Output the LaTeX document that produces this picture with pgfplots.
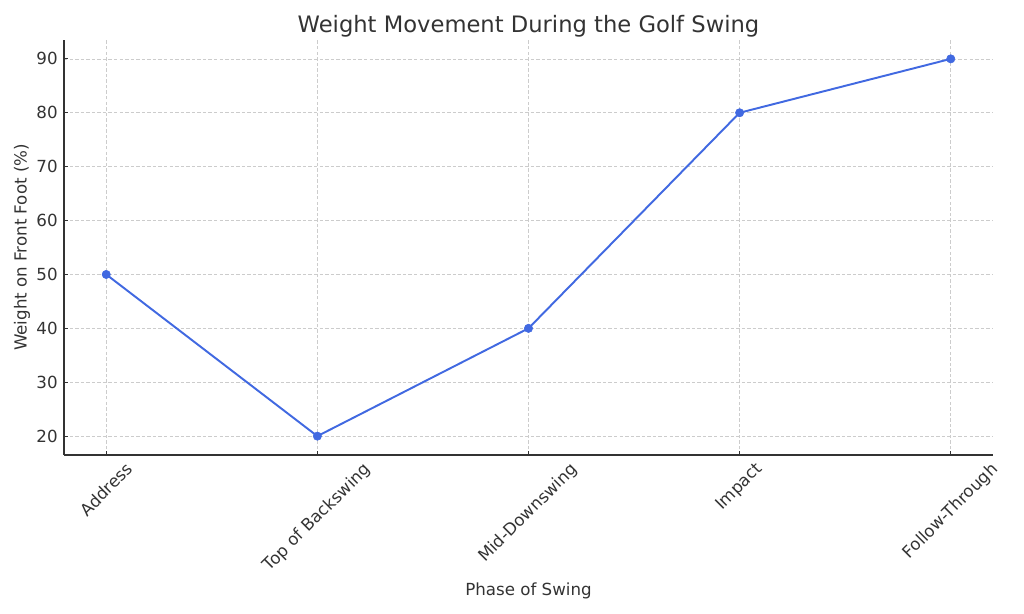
\documentclass[border=0pt]{standalone}
\usepackage{graphicx}
\usepackage{fontspec}
\setmainfont{DejaVu Sans}
\usepackage{pgfplots}
\pgfplotsset{compat=1.18}
\definecolor{txt}{HTML}{333333}
\definecolor{ln}{HTML}{4169E1}
\definecolor{gridc}{HTML}{CCCCCC}
\begin{document}
\begin{tikzpicture}
\useasboundingbox (-46.08pt,-114.48pt) rectangle (691.2pt,327.6pt);
\begin{axis}[
  at={(0,0)}, anchor=south west,
  scale only axis,
  width=668.88pt, height=298.8pt,
  xmin=-0.2, xmax=4.2,
  ymin=16.5, ymax=93.5,
  axis x line*=bottom, axis y line*=left,
  axis line style={-, txt, line width=0.9pt},
  xtick={0,1,2,3,4},
  xticklabels={\rotatebox{45}{Address},\rotatebox{45}{Top of Backswing},\rotatebox{45}{Mid-Downswing},\rotatebox{45}{Impact},\rotatebox{45}{Follow-Through}},
  ytick={20,30,40,50,60,70,80,90},
  tick align=inside,
  major tick length=2.6pt,
  tick style={txt, line width=0.7pt},
  xticklabel style={anchor=north, font=\fontsize{12pt}{14pt}\selectfont, text=txt, yshift=-1pt},
  yticklabel style={font=\fontsize{12pt}{14pt}\selectfont, text=txt, xshift=-1pt},
  /pgf/number format/assume math mode=true,
  grid=major,
  major grid style={gridc, dash pattern=on 2.5pt off 1.5pt, line width=0.5pt},
  title={Weight Movement During the Golf Swing},
  title style={at={(axis description cs:0.5,1.012)}, anchor=center, font=\fontsize{16.3pt}{19pt}\selectfont, text=txt},
  xlabel={Phase of Swing},
  xlabel style={at={(axis description cs:0.5,-0.328)}, anchor=center, font=\fontsize{12pt}{14pt}\selectfont, text=txt},
  ylabel={Weight on Front Foot (\%)},
  ylabel style={at={(axis description cs:-0.0452,0.5)}, anchor=center, rotate=0, font=\fontsize{12pt}{14pt}\selectfont, text=txt},
]
\addplot[ln, line width=1.4pt, mark=*, mark size=3pt, mark options={solid, fill=ln, draw=ln, line width=0.4pt}] coordinates {
(0,50) (1,20) (2,40) (3,80) (4,90)
};
\end{axis}
\end{tikzpicture}
\end{document}
